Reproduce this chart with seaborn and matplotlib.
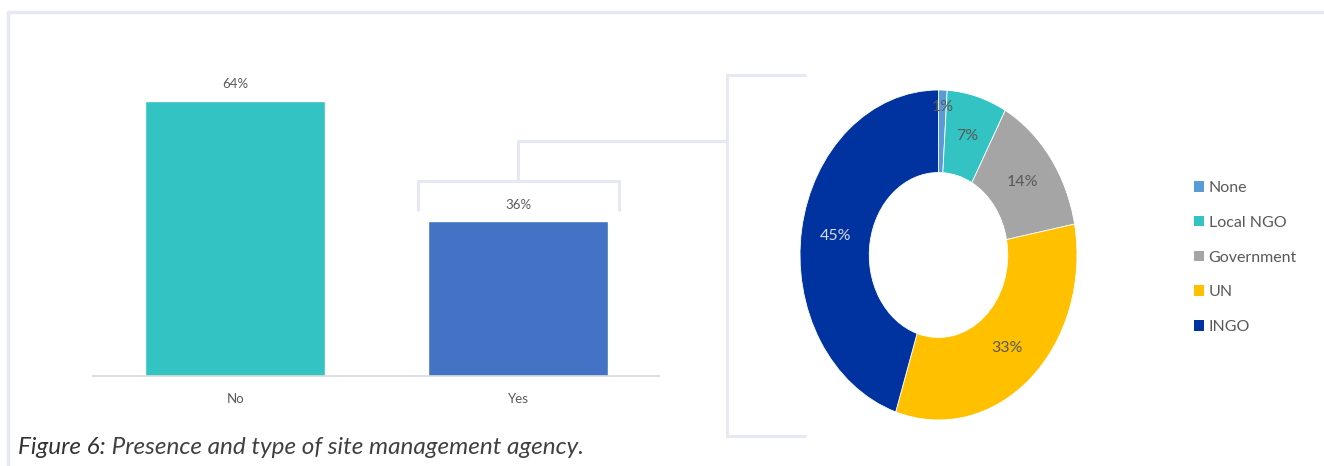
import matplotlib
matplotlib.use("Agg")
import matplotlib.pyplot as plt
from matplotlib.patches import Patch
import numpy as np
import pandas as pd
import seaborn as sns

# --- data -------------------------------------------------------------
presence_labels = ["No", "Yes"]
presence_values = [64, 36]
presence_colors = ["#33C3C3", "#4472C4"]

agency_labels = ["None", "Local NGO", "Government", "UN", "INGO"]
agency_values = [1, 7, 14, 33, 45]
agency_colors = ["#5B9BD5", "#33C3C3", "#A5A5A5", "#FFC000", "#0033A0"]

caption_lead = "Figure 6:"
caption_text = " Presence and type of site management agency."

# --- style ------------------------------------------------------------
sns.set_theme(style="white")
plt.rcParams["font.family"] = ["Lato", "DejaVu Sans"]
TEXT = "#595959"
FRAME = "#E6E8F4"

W, H = 1324, 466
fig = plt.figure(figsize=(W / 100, H / 100), dpi=100)


def px_axes(left, top, right, bottom, **kw):
    """Axes placed by pixel edges (origin top-left)."""
    return fig.add_axes([left / W, 1 - bottom / H, (right - left) / W, (bottom - top) / H], **kw)


# overlay for frame and connector lines
ov = px_axes(0, 0, W, H, zorder=0)
ov.set_xlim(0, W)
ov.set_ylim(H, 0)
ov.axis("off")

# --- bar chart --------------------------------------------------------
ax = px_axes(93, 32, 659, 376)
df = pd.DataFrame({"answer": presence_labels, "share": presence_values})
sns.barplot(data=df, x="answer", y="share", hue="answer", palette=presence_colors,
            width=0.636, legend=False, ax=ax, saturation=1)
ax.set_xlim(-0.502, 1.498)
ax.set_ylim(0, 80)
ax.set_xlabel("")
ax.set_ylabel("")
ax.set_yticks([])
for s in ["top", "left", "right"]:
    ax.spines[s].set_visible(False)
ax.spines["bottom"].set_color("#D9D9D9")
ax.spines["bottom"].set_linewidth(1.2)
ax.tick_params(axis="x", length=0, pad=12, labelsize=9.5, labelcolor=TEXT)
for i, v in enumerate(presence_values):
    ax.text(i, v + 2.4, f"{v}%", ha="center", va="bottom", fontsize=9.5, color=TEXT)

# bracket around the "Yes" bar, leading off to the breakdown
yes_i = presence_labels.index("Yes")
yes_v = presence_values[yes_i]
lw = 2.2
ax.plot([yes_i - 0.355, yes_i - 0.355, yes_i + 0.355, yes_i + 0.355],
        [yes_v + 2.4, yes_v + 9.4, yes_v + 9.4, yes_v + 2.4],
        color=FRAME, lw=lw, clip_on=False, solid_capstyle="butt")
ax.plot([yes_i, yes_i, 1.738], [yes_v + 9.4, 54.7, 54.7],
        color=FRAME, lw=lw, clip_on=False, solid_capstyle="butt")

# outer frame and large bracket around the donut
ov.plot([8, 8, W], [H, 12, 12], color=FRAME, lw=2.5)
ov.plot([805, 727, 727, 805], [75, 75, 436, 436], color=FRAME, lw=lw)

# --- donut chart ------------------------------------------------------
pax = px_axes(800, 90, 1077, 420)
wedges, _, autotexts = pax.pie(
    agency_values, colors=agency_colors, startangle=90, counterclock=False,
    radius=1, wedgeprops=dict(width=0.5, edgecolor="white", linewidth=0.6),
    autopct=lambda p: f"{p:.0f}%", pctdistance=0.75,
    textprops=dict(fontsize=11.5, color=TEXT))
pax.set_aspect("auto")
pax.set_xlim(-1, 1)
pax.set_ylim(-1, 1)
for w, t, lab in zip(wedges, autotexts, agency_labels):
    if lab == "INGO":
        t.set_color("#D9DDF0")
    if lab == "None":
        ang = np.deg2rad((w.theta1 + w.theta2) / 2)
        t.set_position((0.9 * np.cos(ang), 0.9 * np.sin(ang)))

handles = [Patch(facecolor=c, edgecolor="none") for c in agency_colors]
fig.legend(handles, agency_labels, loc="upper left",
           bbox_to_anchor=(1194 / W, 1 - 181 / H), frameon=False,
           fontsize=11.5, labelcolor=TEXT, handlelength=0.62, handleheight=0.62,
           handletextpad=0.3, labelspacing=1.3, borderaxespad=0, borderpad=0)

# --- caption ----------------------------------------------------------
cap = fig.text(18 / W, 1 - 447 / H, caption_lead, fontsize=17.5, style="italic",
               color="#333333", va="center", ha="left")
fig.canvas.draw()
bb = cap.get_window_extent()
fig.text(bb.x1 / W, 1 - 447 / H, caption_text,
         fontsize=17.5, style="italic", color="#404040", va="center", ha="left")

fig.savefig("out.png", dpi=100, facecolor="white")
